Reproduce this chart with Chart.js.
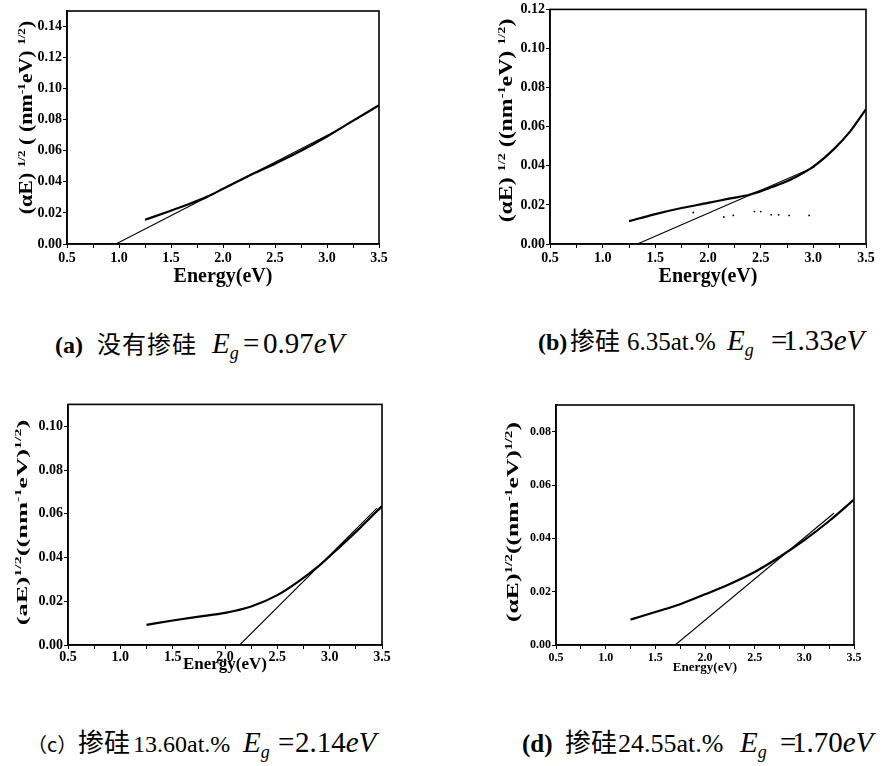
<!DOCTYPE html>
<html>
<head>
<meta charset="utf-8">
<title>Tauc plots</title>
<script src="https://cdn.jsdelivr.net/npm/chart.js@4.4.1/dist/chart.umd.min.js"></script>
<style>
  html, body { margin: 0; padding: 0; background: #fff; }
  body { width: 885px; height: 766px; position: relative; overflow: hidden; }
  canvas { position: absolute; }
  .ytitle {
    position: absolute; white-space: nowrap; line-height: 1;
    font-family: "Liberation Serif", "Times New Roman", serif; font-weight: bold; color: #000;
    transform-origin: center center;
  }
  .ytitle sup { font-size: 0.6em; vertical-align: 0.6em; line-height: 0; }
  .cap { position: absolute; white-space: nowrap; color: #000; line-height: 1.2; }
  .cap > span { display: inline-block; }
  .cap .lbl { font-family: "Liberation Serif", serif; font-weight: bold; }
  .cap .cjk { font-family: "Noto Sans CJK SC", sans-serif; }
  .cap .num { font-family: "Liberation Serif", serif; }
  .cap .eq  { font-family: "Liberation Serif", serif; }
  .cap .eq i { font-style: italic; }
  .cap .eq sub { font-size: 0.62em; vertical-align: -0.35em; line-height: 0; font-style: italic; }
  .cap .bl { width: 0; height: 0; }
</style>
</head>
<body>
<canvas id="chartA"></canvas>
<canvas id="chartB"></canvas>
<canvas id="chartC"></canvas>
<canvas id="chartD"></canvas>

<div class="cap" id="capA"><span class="bl"></span><span class="lbl" style="font-size:24px;width:42px">(a)</span><span class="cjk" style="font-size:24px;width:115px;letter-spacing:1px">没有掺硅</span><span class="eq" style="font-size:29px;width:31px"><i>E<sub>g</sub></i></span><span class="eq" style="font-size:29px;width:20px">=</span><span class="eq" style="font-size:29px">0.97<i>eV</i></span></div>
<div class="cap" id="capB"><span class="bl"></span><span class="lbl" style="font-size:24px;width:32px">(b)</span><span class="cjk" style="font-size:25px;width:57px">掺硅</span><span class="num" style="font-size:25px;width:100px">6.35at.%</span><span class="eq" style="font-size:29px;width:44px"><i>E<sub>g</sub></i></span><span class="eq" style="font-size:29px;width:12px">=</span><span class="eq" style="font-size:29px">1.33<i>eV</i></span></div>
<div class="cap" id="capC"><span class="bl"></span><span class="cjk" style="font-size:20px;width:51px">（c）</span><span class="cjk" style="font-size:26px;width:55px">掺硅</span><span class="num" style="font-size:24px;width:110px">13.60at.%</span><span class="eq" style="font-size:29px;width:35px"><i>E<sub>g</sub></i></span><span class="eq" style="font-size:29px;width:17px">=</span><span class="eq" style="font-size:29px">2.14<i>eV</i></span></div>
<div class="cap" id="capD"><span class="bl"></span><span class="lbl" style="font-size:25px;width:43px">(d)</span><span class="cjk" style="font-size:26px;width:53px">掺硅</span><span class="num" style="font-size:26px;width:122px">24.55at.%</span><span class="eq" style="font-size:29px;width:40px"><i>E<sub>g</sub></i></span><span class="eq" style="font-size:29px;width:12px">=</span><span class="eq" style="font-size:29px">1.70<i>eV</i></span></div>

<script>
// (a) undoped film
const energyA = [1.25, 1.45, 1.65, 1.85, 2.0, 2.25, 2.5, 2.75, 3.0, 3.2, 3.5];
const alphaA  = [0.0156, 0.0203, 0.0251, 0.0305, 0.0355, 0.0439, 0.0517, 0.0600, 0.0692, 0.0773, 0.0893];
const fitEnergyA = [0.97, 3.13];
const fitAlphaA  = [0, 0.0743];

// (b) Si 6.35 at.%
const energyB = [1.25, 1.5, 1.75, 2.0, 2.2, 2.4, 2.6, 2.8, 3.0, 3.2, 3.35, 3.5];
const alphaB  = [0.0117, 0.0153, 0.0184, 0.0210, 0.0232, 0.0253, 0.0290, 0.0334, 0.0396, 0.0488, 0.0576, 0.0690];
const fitEnergyB = [1.33, 3.01];
const fitAlphaB  = [0, 0.0394];
const speckEnergyB = [1.86, 2.15, 2.24, 2.44, 2.5, 2.6, 2.67, 2.77, 2.96];
const speckAlphaB  = [0.0161, 0.0138, 0.0146, 0.0166, 0.0166, 0.0149, 0.0149, 0.0146, 0.0146];

// (c) Si 13.60 at.%
const energyC = [1.25, 1.5, 1.75, 2.0, 2.25, 2.5, 2.7, 2.9, 3.1, 3.3, 3.5];
const alphaC  = [0.0092, 0.0112, 0.0130, 0.0147, 0.0176, 0.0228, 0.0290, 0.0363, 0.0450, 0.0540, 0.0635];
const fitEnergyC = [2.14, 3.45];
const fitAlphaC  = [0, 0.0625];

// (d) Si 24.55 at.%
const energyD = [1.25, 1.5, 1.75, 2.0, 2.25, 2.5, 2.75, 3.0, 3.25, 3.5];
const alphaD  = [0.0095, 0.0124, 0.0153, 0.0190, 0.0229, 0.0274, 0.0330, 0.0393, 0.0465, 0.0545];
const fitEnergyD = [1.70, 3.3];
const fitAlphaD  = [0, 0.0495];

const serif = '"Liberation Serif", "Times New Roman", serif';

// box around the plotting area
const framePlugin = {
  id: 'frame',
  afterDraw(chart) {
    const { ctx, chartArea: a } = chart;
    ctx.save();
    ctx.strokeStyle = '#000';
    ctx.lineWidth = 1.6;
    ctx.strokeRect(a.left, a.top, a.right - a.left, a.bottom - a.top);
    ctx.restore();
  }
};

const pts = (xs, ys) => xs.map((x, i) => ({ x, y: ys[i] }));

function makePanel(p) {
  const el = document.getElementById(p.id);
  const [bx, by, bw, bh] = p.box;
  const [aL, aT, aR, aB] = p.area;
  el.width = bw; el.height = bh;
  el.style.left = bx + 'px'; el.style.top = by + 'px';
  el.style.width = bw + 'px'; el.style.height = bh + 'px';

  const datasets = [
    { data: pts(p.curveX, p.curveY), showLine: true, borderColor: '#000', borderWidth: 2.2,
      pointRadius: 0, tension: 0.4, cubicInterpolationMode: 'monotone' },
    { data: pts(p.fitX, p.fitY), showLine: true, borderColor: '#000', borderWidth: 1.1, pointRadius: 0 }
  ];
  if (p.speckX) {
    datasets.push({ data: pts(p.speckX, p.speckY), showLine: false, pointRadius: 0.9,
      backgroundColor: '#000', borderWidth: 0 });
  }

  new Chart(el, {
    type: 'scatter',
    data: { datasets },
    options: {
      responsive: false,
      animation: false,
      layout: { padding: { top: aT - by, right: bx + bw - aR, left: 0, bottom: 0 } },
      plugins: { legend: { display: false }, tooltip: { enabled: false } },
      scales: {
        x: {
          type: 'linear', min: 0.5, max: 3.5,
          afterFit: s => { s.height = by + bh - aB; },
          border: { color: '#000', width: 1.6 },
          grid: { drawOnChartArea: false, tickLength: 4, tickColor: '#000' },
          ticks: {
            stepSize: 0.25, autoSkip: false, maxRotation: 0, padding: p.xTickPad, color: '#000',
            font: { family: serif, size: p.tickSize, weight: 'bold' },
            callback: v => (Math.abs(v * 2 - Math.round(v * 2)) < 1e-6 ? v.toFixed(1) : '')
          },
          title: {
            display: true, text: 'Energy(eV)', color: '#000',
            font: { family: serif, size: p.xTitleSize, weight: 'bold' },
            padding: { top: 0, bottom: p.xTitlePad }
          }
        },
        y: {
          type: 'linear', min: 0, max: p.yMax,
          afterFit: s => { s.width = aL - bx; },
          border: { color: '#000', width: 1.6 },
          grid: { drawOnChartArea: false, tickLength: 4, tickColor: '#000' },
          ticks: {
            stepSize: 0.02, includeBounds: false, padding: 1, color: '#000',
            font: { family: serif, size: p.tickSize, weight: 'bold' },
            callback: v => v.toFixed(2)
          }
        }
      }
    },
    plugins: [framePlugin]
  });
}

makePanel({ id: 'chartA', box: [0, 0, 395, 295], area: [67, 11, 379, 244], yMax: 0.15,
  curveX: energyA, curveY: alphaA, fitX: fitEnergyA, fitY: fitAlphaA,
  tickSize: 14, xTickPad: 2, xTitleSize: 20, xTitlePad: 6 });
makePanel({ id: 'chartB', box: [440, 0, 445, 295], area: [550, 8, 866, 244], yMax: 0.12,
  curveX: energyB, curveY: alphaB, fitX: fitEnergyB, fitY: fitAlphaB,
  speckX: speckEnergyB, speckY: speckAlphaB,
  tickSize: 14, xTickPad: 2, xTitleSize: 20, xTitlePad: 6 });
makePanel({ id: 'chartC', box: [0, 395, 395, 300], area: [68, 404, 382, 645], yMax: 0.11,
  curveX: energyC, curveY: alphaC, fitX: fitEnergyC, fitY: fitAlphaC,
  tickSize: 14, xTickPad: 0, xTitleSize: 17, xTitlePad: 20 });
makePanel({ id: 'chartD', box: [470, 395, 415, 295], area: [556, 405, 854, 645], yMax: 0.09,
  curveX: energyD, curveY: alphaD, fitX: fitEnergyD, fitY: fitAlphaD,
  tickSize: 12, xTickPad: 2, xTitleSize: 13, xTitlePad: 15 });

// rotated y-axis titles, stretched to the axis length
function yTitle(html, cx, cy, len, size) {
  const d = document.createElement('div');
  d.className = 'ytitle';
  d.style.fontSize = size + 'px';
  d.innerHTML = html;
  document.body.appendChild(d);
  const w = d.offsetWidth, h = d.offsetHeight;
  d.style.left = (cx - w / 2) + 'px';
  d.style.top = (cy - h / 2) + 'px';
  d.style.transform = 'rotate(-90deg) scaleX(' + (len / w).toFixed(3) + ')';
}
yTitle('(αE) <sup>1/2</sup> ( (nm<sup>-1</sup>eV) <sup>1/2</sup>)', 25, 117, 193, 19);
yTitle('(αE) <sup>1/2</sup> ((nm<sup>-1</sup>eV) <sup>1/2</sup>)', 505, 120, 204, 19);
yTitle('(aE)<sup>1/2</sup>((nm<sup>-1</sup>eV)<sup>1/2</sup>)', 22, 522, 205, 15);
yTitle('(αE)<sup>1/2</sup>((nm<sup>-1</sup>eV)<sup>1/2</sup>)', 512, 522, 200, 16);

// captions: put each line's text baseline on a fixed y
function placeCaption(id, left, baseline) {
  const el = document.getElementById(id);
  el.style.left = left + 'px';
  el.style.top = '0px';
  const mark = el.querySelector('.bl').getBoundingClientRect();
  el.style.top = (baseline - mark.top) + 'px';
}
placeCaption('capA', 55, 353);
placeCaption('capB', 538, 350);
placeCaption('capC', 27, 752);
placeCaption('capD', 522, 752);
</script>
</body>
</html>
